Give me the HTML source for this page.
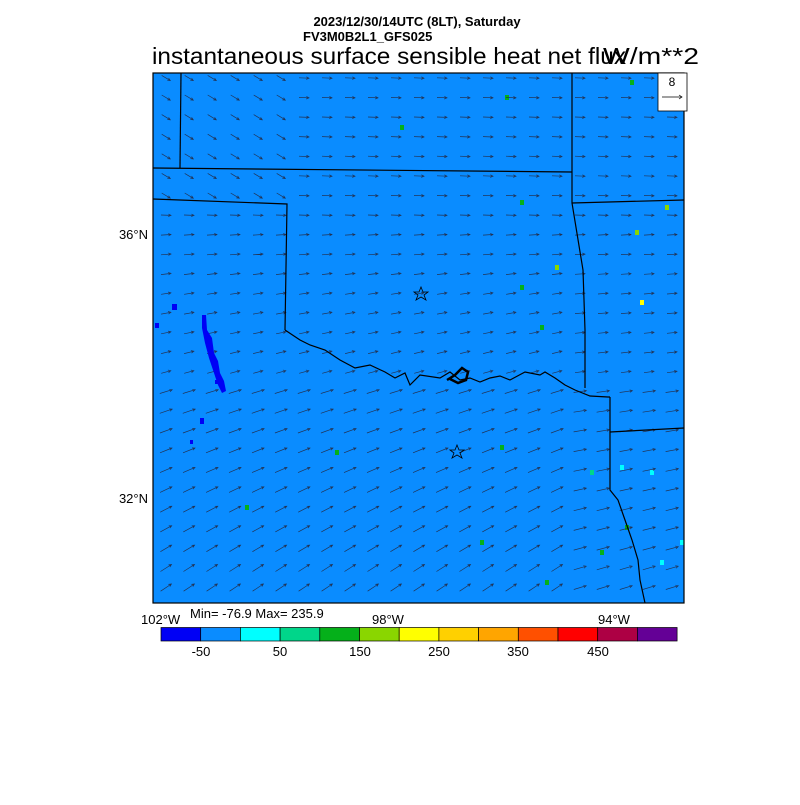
<!DOCTYPE html>
<html><head><meta charset="utf-8"><style>
body{margin:0;background:#fff;width:800px;height:800px;overflow:hidden;font-family:"Liberation Sans",sans-serif}
</style></head><body>
<svg id="s" width="800" height="800" xmlns="http://www.w3.org/2000/svg" font-family="Liberation Sans, sans-serif">
<text x="417" y="26" font-size="13" font-weight="bold" text-anchor="middle">2023/12/30/14UTC (8LT), Saturday</text>
<text x="303" y="41" font-size="13" font-weight="bold">FV3M0B2L1_GFS025</text>
<text x="152" y="64" font-size="23" textLength="474" lengthAdjust="spacingAndGlyphs">instantaneous surface sensible heat net flux</text>
<text x="603" y="64" font-size="23" textLength="96" lengthAdjust="spacingAndGlyphs">W/m**2</text>
<rect x="153" y="73" width="531" height="530" fill="#0a8cff"/>
<g id="dots"></g>
<g id="arr" stroke="#223355" stroke-width="0.7" fill="none"></g>
<g stroke="#000" stroke-width="1.2" fill="none">
<polyline points="181,73 180,168"/>
<polyline points="153,168 572,172"/>
<polyline points="153,199 287,204 285,330"/>
<polyline points="572,73 572,203 583,270 585,330 585,388"/>
<polyline points="572,203 684,200"/>
<polyline points="285,330 300,340 310,345 325,350 340,360 355,368 370,365 385,372 395,378 405,373 410,385 420,375 440,378 450,372 460,380 470,378 480,382 490,378 500,376 510,380 525,372 540,375 545,372 555,378 565,385 575,390 590,396 608,397 610,397"/>
<polyline points="610,397 610,490 618,500 625,520 632,540 638,560 640,580 645,603"/>
<polyline points="610,432 684,428"/>
<polyline points="447,380 455,375 462,368 468,372 466,380 458,383 450,379" stroke-width="2.5"/>
</g>
<polygon points="421,287 423,292 428,292 424,295 426,300 421,297 416,300 418,295 414,292 419,292" fill="none" stroke="#000" stroke-width="0.8"/>
<polygon points="457,445 459,450 464,450 460,453 462,458 457,455 452,458 454,453 450,450 455,450" fill="none" stroke="#000" stroke-width="0.8"/>
<rect x="153" y="73" width="531" height="530" fill="none" stroke="#000" stroke-width="1.2"/>
<rect x="658" y="73" width="29" height="38" fill="#fff" stroke="#000" stroke-width="0.8"/>
<text x="672" y="86" font-size="12" text-anchor="middle">8</text>
<line x1="662" y1="97" x2="682" y2="97" stroke="#000" stroke-width="0.7"/>
<polyline points="679,95 682,97 679,99" fill="none" stroke="#000" stroke-width="0.7"/>
<text x="148" y="239" font-size="13" text-anchor="end">36°N</text>
<text x="148" y="503" font-size="13" text-anchor="end">32°N</text>
<text x="141" y="624" font-size="13">102°W</text>
<text x="190" y="618" font-size="13">Min= -76.9 Max= 235.9</text>
<text x="372" y="624" font-size="13">98°W</text>
<text x="598" y="624" font-size="13">94°W</text>
<g id="cb" stroke="#000" stroke-width="0.7"></g>
<g font-size="13" text-anchor="middle">
<text x="201" y="656">-50</text><text x="280" y="656">50</text><text x="360" y="656">150</text><text x="439" y="656">250</text><text x="518" y="656">350</text><text x="598" y="656">450</text>
</g>
<path d="M202,315 l4,0 l1,15 l5,8 l2,15 l4,8 l2,12 l4,8 l2,10 l-4,2 l-4,-8 l-4,-12 l-5,-15 l-4,-15 l-3,-15z" fill="#0000f5"/>
<rect x="215" y="380" width="3" height="4" fill="#0000f5"/>
<rect x="200" y="418" width="4" height="6" fill="#0000f5"/>
<rect x="190" y="440" width="3" height="4" fill="#0000f5"/>
<rect x="172" y="304" width="5" height="6" fill="#0000f5"/>
<rect x="155" y="323" width="4" height="5" fill="#0000f5"/>
</svg>
<script>
var s="http://www.w3.org/2000/svg";
var cols=["#0000f5","#0a8cff","#00ffff","#00d68a","#05b01a","#8ad600","#ffff00","#ffd000","#ffa500","#ff5000","#ff0000","#ad0044","#640096"];
var cb=document.getElementById("cb");
for(var i=0;i<13;i++){var r=document.createElementNS(s,"rect");r.setAttribute("x",161+i*39.7);r.setAttribute("y",627.5);r.setAttribute("width",39.7);r.setAttribute("height",13.5);r.setAttribute("fill",cols[i]);cb.appendChild(r);}
var g=document.getElementById("arr");var d="";
for(var y=78;y<600;y+=19.6){for(var x=166;x<684;x+=23){
 var t=(y-78)/520; var ang;
 if(t<0.3) ang=0.05; else ang=-(t-0.3)*0.8-0.05;
 if(x<300&&y<200) ang=0.55;
 if(x>560&&y>250) ang*=0.5;
 var L=10+ (t>0.6?3:0);var dx=Math.cos(ang)*L,dy=Math.sin(ang)*L;
 var x0=x-dx/2,y0=y-dy/2,x1=x+dx/2,y1=y+dy/2;
 var a1=ang+Math.PI-0.45,a2=ang+Math.PI+0.45;
 d+="M"+x0.toFixed(1)+","+y0.toFixed(1)+"L"+x1.toFixed(1)+","+y1.toFixed(1)+"M"+(x1+3*Math.cos(a1)).toFixed(1)+","+(y1+3*Math.sin(a1)).toFixed(1)+"L"+x1.toFixed(1)+","+y1.toFixed(1)+"L"+(x1+3*Math.cos(a2)).toFixed(1)+","+(y1+3*Math.sin(a2)).toFixed(1);
}}
var p=document.createElementNS(s,"path");p.setAttribute("d",d);g.appendChild(p);
var dots=document.getElementById("dots");
var pts=[[520,200,"#05b01a"],[520,285,"#05b01a"],[555,265,"#8ad600"],[635,230,"#8ad600"],[640,300,"#ffff00"],[620,465,"#00ffff"],[660,560,"#00ffff"],[600,550,"#05b01a"],[625,525,"#05b01a"],[480,540,"#05b01a"],[590,470,"#00d68a"],[500,445,"#05b01a"],[245,505,"#05b01a"],[335,450,"#05b01a"],[545,580,"#05b01a"],[665,205,"#8ad600"],[650,470,"#00ffff"],[680,540,"#00ffff"],[540,325,"#05b01a"],[505,95,"#05b01a"],[400,125,"#05b01a"],[630,80,"#05b01a"]];
pts.forEach(function(q){var r=document.createElementNS(s,"rect");r.setAttribute("x",q[0]);r.setAttribute("y",q[1]);r.setAttribute("width",4);r.setAttribute("height",5);r.setAttribute("fill",q[2]);dots.appendChild(r);});
</script>
</body></html>
